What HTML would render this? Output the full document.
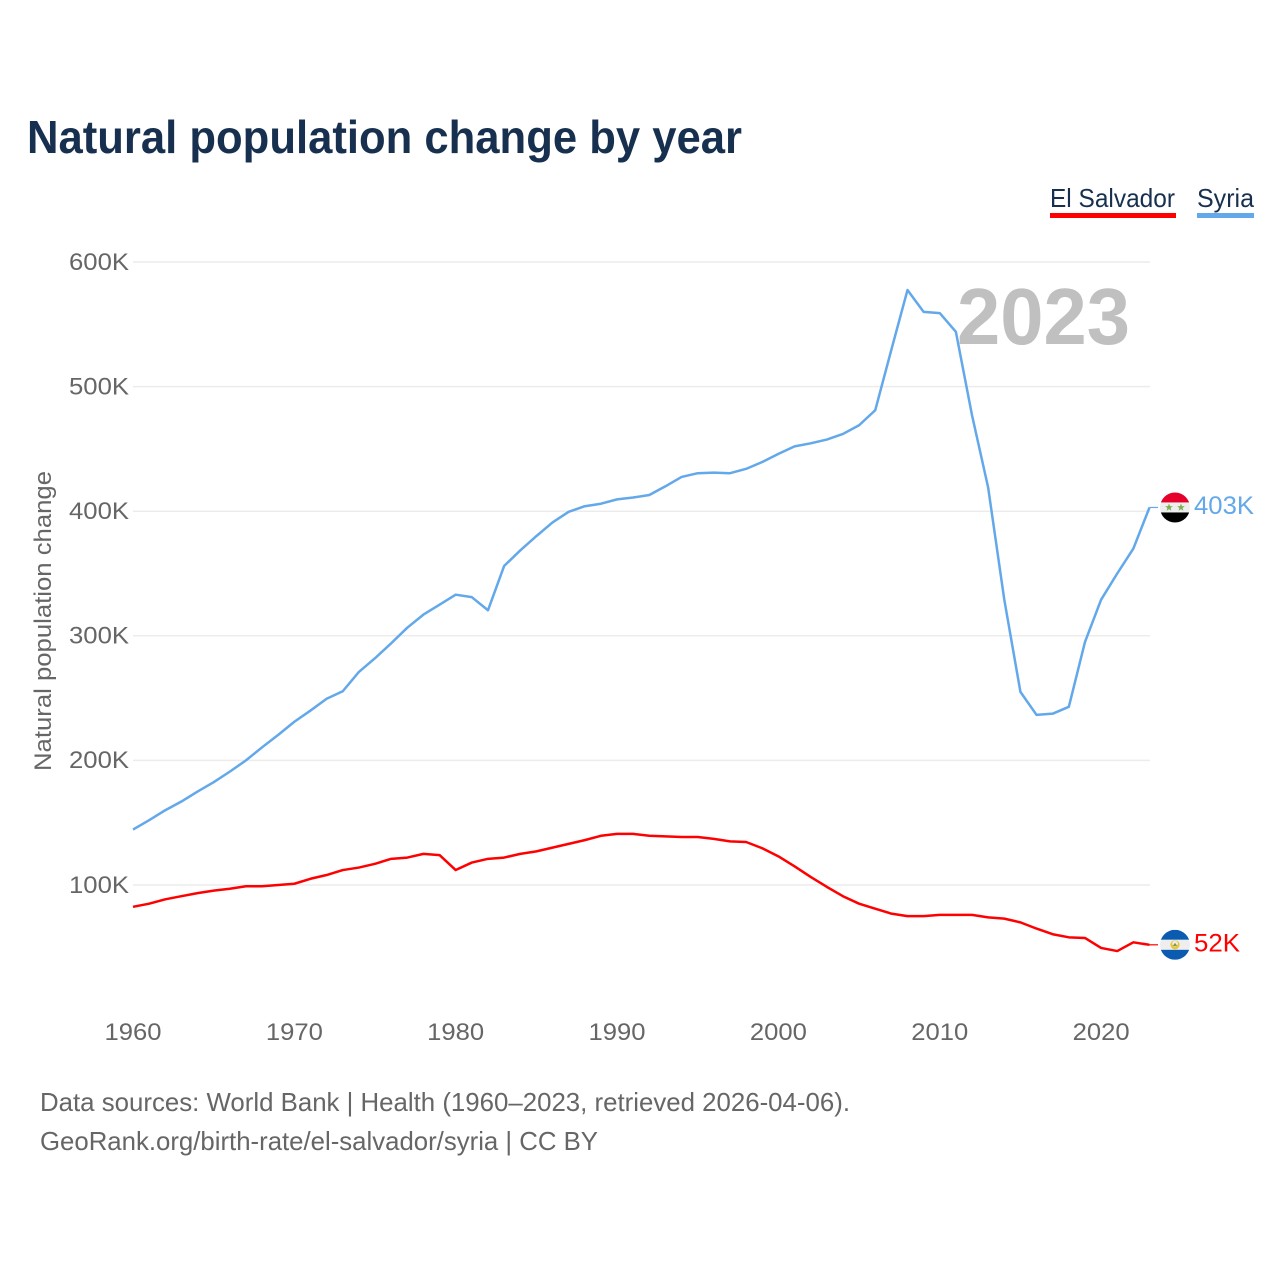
<!DOCTYPE html>
<html lang="en">
<head>
<meta charset="utf-8">
<title>Natural population change by year</title>
<style>
html,body{margin:0;padding:0;background:#fff;}
svg{display:block;font-family:"Liberation Sans",sans-serif;}
</style>
</head>
<body>
<svg id="chart" width="1280" height="1280" viewBox="0 0 1280 1280" xmlns="http://www.w3.org/2000/svg">
  <defs>
    <clipPath id="clip-syria"><circle cx="0" cy="0" r="15"/></clipPath>
    <clipPath id="clip-salvador"><circle cx="0" cy="0" r="15"/></clipPath>
  </defs>
  <rect width="1280" height="1280" fill="#fff"/>
  <text x="27" y="153" font-size="46" font-weight="700" fill="#18304f" textLength="715" lengthAdjust="spacingAndGlyphs">Natural population change by year</text>

  <text x="1050" y="207" font-size="26" fill="#18304f" textLength="125" lengthAdjust="spacingAndGlyphs">El Salvador</text>
  <rect x="1050" y="213" width="126" height="5" fill="#ff0000"/>
  <text x="1197" y="207" font-size="26" fill="#18304f" textLength="57" lengthAdjust="spacingAndGlyphs">Syria</text>
  <rect x="1197" y="213" width="57" height="5" fill="#62a8ea"/>

  <g id="grid"></g>
  <g id="y-ticks"></g>
  <g id="x-ticks"></g>

  <text transform="translate(51 771) rotate(-90)" font-size="24.5" fill="#666" textLength="300" lengthAdjust="spacingAndGlyphs">Natural population change</text>
  <text x="957" y="344" font-size="80" font-weight="700" fill="#c0c0c0" textLength="173" lengthAdjust="spacingAndGlyphs">2023</text>

  <g id="series"></g>

  <text x="40" y="1111" font-size="26" fill="#666" textLength="810" lengthAdjust="spacingAndGlyphs">Data sources: World Bank | Health (1960–2023, retrieved 2026-04-06).</text>
  <text x="40" y="1150" font-size="26" fill="#666" textLength="558" lengthAdjust="spacingAndGlyphs">GeoRank.org/birth-rate/el-salvador/syria | CC BY</text>
</svg>
<script>
const startYear = 1960;
const endYear = 2023;
const yTickValues = [100, 200, 300, 400, 500, 600];
const xTickYears = [1960, 1970, 1980, 1990, 2000, 2010, 2020];
const syriaValues = [
  144.5,152,160,167,175,182.5,191,200,210.5,220.5,
  231,240,249.5,255.5,271,282,294,306.5,317,325,
  333,331,320.5,356,368.5,380,391,399.5,404,406,
  409.5,411,413,420,427.5,430.5,431,430.5,434,439.5,
  446,452,454.5,457.5,462,469,481,529.5,577.5,560,
  559,544,477,419,329,255,236.5,237.5,243,295,
  329,350,370,403
];
const elSalvadorValues = [
  82.5,85,88.5,91,93.5,95.5,97,99,99,100,
  101,105,108,112,114,117,121,122,125,124,
  112,118,121,122,125,127,130,133,136,139.5,
  141,141,139.5,139,138.5,138.5,137,135,134.5,129.5,
  123,115,106.5,98.5,91,85,81,77,75,75,
  76,76,76,74,73,70,65,60.5,58,57.5,
  49.5,47,54,52
];

const NS = 'http://www.w3.org/2000/svg';
const xOf = year => 133 + (year - startYear) * (1149.5 - 133) / (endYear - startYear);
const yOf = value => 1009.6 - value * 1.246;
const GRID_COLOR = '#ececec';
const TEXT_COLOR = '#666';

function make(tag, attrs, parent, text) {
  const el = document.createElementNS(NS, tag);
  for (const k in attrs) el.setAttribute(k, attrs[k]);
  if (text !== undefined) el.textContent = text;
  parent.appendChild(el);
  return el;
}

const gridGroup = document.getElementById('grid');
const yTickGroup = document.getElementById('y-ticks');
yTickValues.forEach(v => {
  const ln = make('line', {x1: 133, x2: 1150, y1: yOf(v), y2: yOf(v), stroke: GRID_COLOR, 'stroke-width': 1.5}, gridGroup);
  
  
  const label = v + 'K';
  const t = make('text', {x: 129, y: yOf(v) + 7.8, 'text-anchor': 'end', 'font-size': 24.5, fill: TEXT_COLOR, textLength: 60, lengthAdjust: 'spacingAndGlyphs'}, yTickGroup, label);
  
  
});

const xTickGroup = document.getElementById('x-ticks');
xTickYears.forEach(yr => {
  const t = make('text', {x: xOf(yr), y: 1040, 'text-anchor': 'middle', 'font-size': 24.5, fill: TEXT_COLOR, textLength: 57, lengthAdjust: 'spacingAndGlyphs'}, xTickGroup, String(yr));
  
  
});

function pathFor(values) {
  return values.map((v, i) => (i ? 'L' : 'M') + xOf(startYear + i).toFixed(2) + ' ' + yOf(v).toFixed(2)).join(' ');
}

const seriesGroup = document.getElementById('series');

function drawSeries(values, color, key) {
  const line = make('path', {d: pathFor(values), fill: 'none', stroke: color, 'stroke-width': 2.5, 'stroke-linejoin': 'round'}, seriesGroup);
  
  
  const last = values[values.length - 1];
  const ly = yOf(last);
  const conn = make('line', {x1: xOf(endYear), x2: 1158, y1: ly, y2: ly, stroke: color, 'stroke-width': 1.2}, seriesGroup);
  
  
  const lab = make('text', {x: 1194, y: ly + 6.5, 'font-size': 25, fill: color, textLength: String(Math.round(last)).length === 3 ? 60 : 46, lengthAdjust: 'spacingAndGlyphs'}, seriesGroup, Math.round(last) + 'K');
  
  
  const flag = make('g', {transform: 'translate(1175 ' + ly + ')'}, seriesGroup);
  
  
  return flag;
}

const salvadorFlag = drawSeries(elSalvadorValues, '#ff0000', 'el-salvador');
const sv = make('g', {'clip-path': 'url(#clip-salvador)'}, salvadorFlag);
make('rect', {x: -15, y: -15, width: 30, height: 10, fill: '#0b5cb0'}, sv);
make('rect', {x: -15, y: -5, width: 30, height: 10, fill: '#eeeeee'}, sv);
make('rect', {x: -15, y: 5, width: 30, height: 10, fill: '#0b5cb0'}, sv);
make('circle', {cx: 0, cy: 0, r: 4.6, fill: '#eac53a'}, sv);
make('circle', {cx: 0, cy: -1.2, r: 2.8, fill: '#eeeeee'}, sv);
make('path', {d: 'M-2.2 1.2 L2.2 1.2 L0 -2 Z', fill: '#7a9e4a'}, sv);

const syriaFlag = drawSeries(syriaValues, '#62a8ea', 'syria');
const sy = make('g', {'clip-path': 'url(#clip-syria)'}, syriaFlag);
make('rect', {x: -15, y: -15, width: 30, height: 10, fill: '#e4002b'}, sy);
make('rect', {x: -15, y: -5, width: 30, height: 10, fill: '#eeeeee'}, sy);
make('rect', {x: -15, y: 5, width: 30, height: 10, fill: '#000000'}, sy);
[-6, 6].forEach(cx => {
  const pts = [];
  for (let i = 0; i < 10; i++) {
    const r = i % 2 ? 1.7 : 4;
    const a = -Math.PI / 2 + i * Math.PI / 5;
    pts.push((cx + r * Math.cos(a)).toFixed(2) + ',' + (r * Math.sin(a)).toFixed(2));
  }
  make('polygon', {points: pts.join(' '), fill: '#7cb04f'}, sy);
});
</script>
</body>
</html>
